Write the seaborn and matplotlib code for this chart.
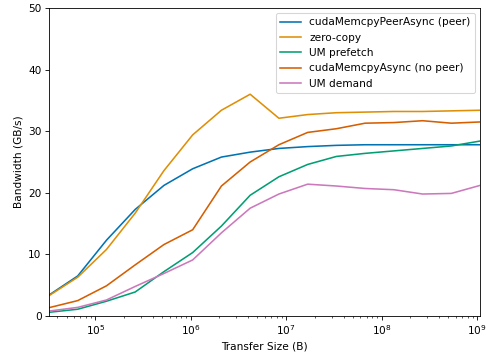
import numpy as np
import pandas as pd
import matplotlib
matplotlib.use("Agg")
import matplotlib.pyplot as plt
import seaborn as sns

sizes = [2**k for k in range(15, 31)]
peer = [3.4, 6.5, 12.3, 17.3, 21.2, 23.9, 25.8, 26.6, 27.2, 27.5, 27.7, 27.8, 27.8, 27.8, 27.8, 27.8]
zero_copy = [3.3, 6.3, 10.8, 16.7, 23.6, 29.4, 33.4, 36.0, 32.1, 32.7, 33.0, 33.1, 33.2, 33.2, 33.3, 33.4]
um_prefetch = [0.6, 1.1, 2.4, 3.9, 7.2, 10.3, 14.6, 19.6, 22.6, 24.6, 25.9, 26.4, 26.8, 27.2, 27.6, 28.4]
no_peer = [1.35, 2.5, 4.9, 8.3, 11.6, 14.0, 21.1, 25.0, 27.8, 29.8, 30.4, 31.3, 31.4, 31.7, 31.3, 31.5]
um_demand = [0.8, 1.4, 2.6, 4.8, 6.9, 9.1, 13.5, 17.5, 19.8, 21.4, 21.1, 20.7, 20.5, 19.8, 19.9, 21.2]

names = ["cudaMemcpyPeerAsync (peer)", "zero-copy", "UM prefetch",
         "cudaMemcpyAsync (no peer)", "UM demand"]
series = [peer, zero_copy, um_prefetch, no_peer, um_demand]

rows = []
for n, vals in zip(names, series):
    for s, v in zip(sizes, vals):
        rows.append({"size": s, "bw": v, "method": n})
df = pd.DataFrame(rows)

plt.rcParams['font.family'] = ['DejaVu Sans']

dpi = 75.94
fig = plt.figure(figsize=(486 / dpi, 358 / dpi), dpi=dpi)
ax = fig.add_axes([0.1008, 0.1173, 0.887, 0.8604])
pal = sns.color_palette("colorblind", 5)
sns.lineplot(data=df, x="size", y="bw", hue="method", hue_order=names,
             palette=pal, ax=ax, linewidth=1.5)
ax.set_xscale("log")
ax.set_xlim(sizes[0], sizes[-1])
ax.set_ylim(0, 50)
ax.set_yticks([0, 10, 20, 30, 40, 50])
ax.set_xlabel("Transfer Size (B)")
ax.set_ylabel("Bandwidth (GB/s)")
leg = ax.legend(loc="upper right", title=None)
fig.savefig("out.png", dpi=dpi)
